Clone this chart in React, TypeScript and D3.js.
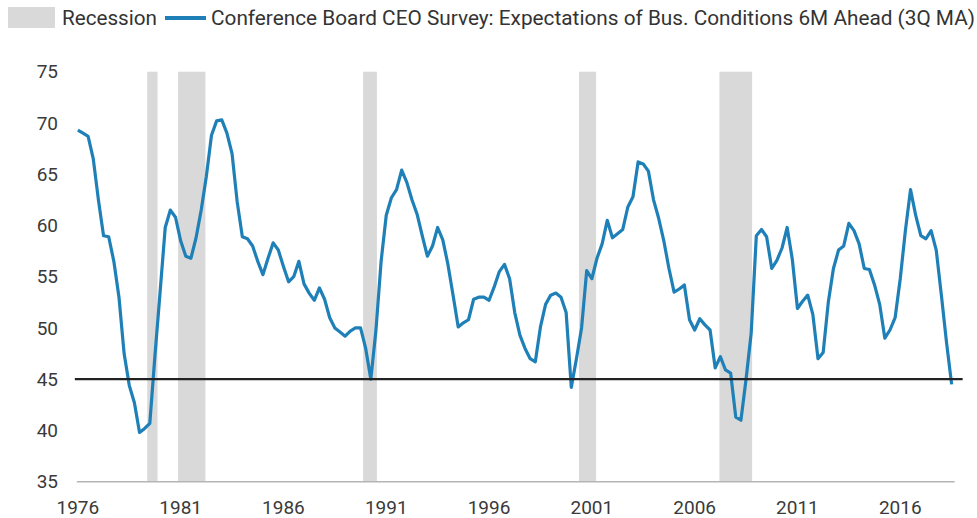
import React from 'react'
import * as d3 from 'd3'

// quarterly, first point is 1976 Q3
const startYear = 1976
const startQuarter = 3
const ceoSurvey = [
  69.3, 69.0,
  68.7, 66.5, 62.5, 59.0,
  58.9, 56.5, 53.0, 47.5,
  44.4, 42.7, 39.8, 40.2,
  40.7, 47.3, 53.5, 59.8,
  61.5, 60.8, 58.5, 57.0,
  56.8, 58.8, 61.5, 64.8,
  68.8, 70.2, 70.3, 69.0,
  67.0, 62.3, 58.9, 58.7,
  58.0, 56.5, 55.2, 56.8,
  58.3, 57.6, 56.0, 54.5,
  55.0, 56.5, 54.3, 53.4,
  52.7, 53.9, 52.8, 51.0,
  50.0, 49.6, 49.2, 49.7,
  50.0, 50.0, 48.0, 45.0,
  49.8, 56.5, 61.0, 62.7,
  63.5, 65.4, 64.2, 62.5,
  61.1, 59.0, 57.0, 58.0,
  59.8, 58.6, 56.2, 53.2,
  50.1, 50.5, 50.8, 52.8,
  53.0, 53.0, 52.7, 54.0,
  55.5, 56.2, 54.8, 51.5,
  49.3, 48.0, 47.0, 46.7,
  50.1, 52.3, 53.2, 53.4,
  53.0, 51.5, 44.2, 47.0,
  50.0, 55.6, 54.8, 56.8,
  58.2, 60.5, 58.8, 59.2,
  59.6, 61.8, 62.8, 66.2,
  66.0, 65.3, 62.5, 60.7,
  58.5, 55.8, 53.5, 53.8,
  54.2, 50.8, 49.8, 50.9,
  50.3, 49.8, 46.1, 47.2,
  45.9, 45.6, 41.3, 41.0,
  45.0, 49.5, 59.0, 59.6,
  58.9, 55.8, 56.6, 57.8,
  59.8, 56.7, 51.9, 52.6,
  53.2, 51.3, 47.0, 47.6,
  52.5, 55.8, 57.6, 58.0,
  60.2, 59.5, 58.2, 55.8,
  55.7, 54.2, 52.3, 49.0,
  49.8, 51.0, 54.8, 59.5,
  63.5, 61.0, 59.0, 58.7,
  59.5, 57.6, 53.2, 48.6,
  44.5,
]
const recessions = [
  [1980.0, 1980.5],
  [1981.5, 1982.83],
  [1990.5, 1991.17],
  [2001.0, 2001.83],
  [2007.83, 2009.42],
]
const yTicks = [35, 40, 45, 50, 55, 60, 65, 70, 75]
const xTickLabels = ['1976', '1981', '1986', '1991', '1996', '2001', '2006', '2011', '2016']
const threshold = 45

const W = 977
const H = 518

const quarterTime = (i: number) => startYear + (startQuarter - 1 + i) / 4 + 0.125

export default function App() {
  const x = d3.scaleLinear().domain([1976, 2020]).range([65, 65 + 44 * 20.56])
  const y = d3.scaleLinear().domain([35, 75]).range([481.7, 71.7])

  const line = d3.line<number>()
    .x((d, i) => x(quarterTime(i)))
    .y(d => y(d))

  const first = x(quarterTime(0))
  const last = x(quarterTime(ceoSurvey.length - 1))
  const font = 'Roboto, "Noto Sans", sans-serif'

  return <div style={{position: 'fixed', left: 0, top: 0}}>
    <svg width={W} height={H} style={{display: 'block', background: '#fff'}}>
      {/* legend */}
      <g fontFamily={font} fontSize={20} fill="#333">
        <rect x={8} y={7} width={47} height={21} fill="#d9d9d9" />
        <text x={62} y={25} textLength={95} lengthAdjust="spacingAndGlyphs">Recession</text>
        <line x1={165} x2={206} y1={18} y2={18} stroke="#1f80b8" strokeWidth={4} />
        <text x={211} y={25} textLength={764} lengthAdjust="spacingAndGlyphs">
          Conference Board CEO Survey: Expectations of Bus. Conditions 6M Ahead (3Q MA)
        </text>
      </g>

      {recessions.map(([a, b], i) =>
        <rect key={i} x={x(a)} width={x(b) - x(a)} y={y(75)} height={y(35) - y(75)} fill="#d9d9d9" />
      )}

      <line x1={first - 1} x2={last + 3} y1={y(35)} y2={y(35)} stroke="#b5b5b5" strokeWidth={1.5} />

      <g fontFamily={font} fontSize={19} fill="#3a3a3a">
        {yTicks.map(t =>
          <text key={t} x={58} y={y(t)} dy="0.35em" textAnchor="end">{t}</text>
        )}
        {xTickLabels.map((label, i) =>
          <text key={label} x={x(quarterTime(i * 20))} y={514} textAnchor="middle">{label}</text>
        )}
      </g>

      <path d={line(ceoSurvey) || ''} fill="none" stroke="#1f80b8" strokeWidth={3.2} strokeLinejoin="round" />

      <line x1={first - 3} x2={last + 11} y1={y(threshold)} y2={y(threshold)} stroke="#222" strokeWidth={2.2} />
    </svg>
  </div>
}
